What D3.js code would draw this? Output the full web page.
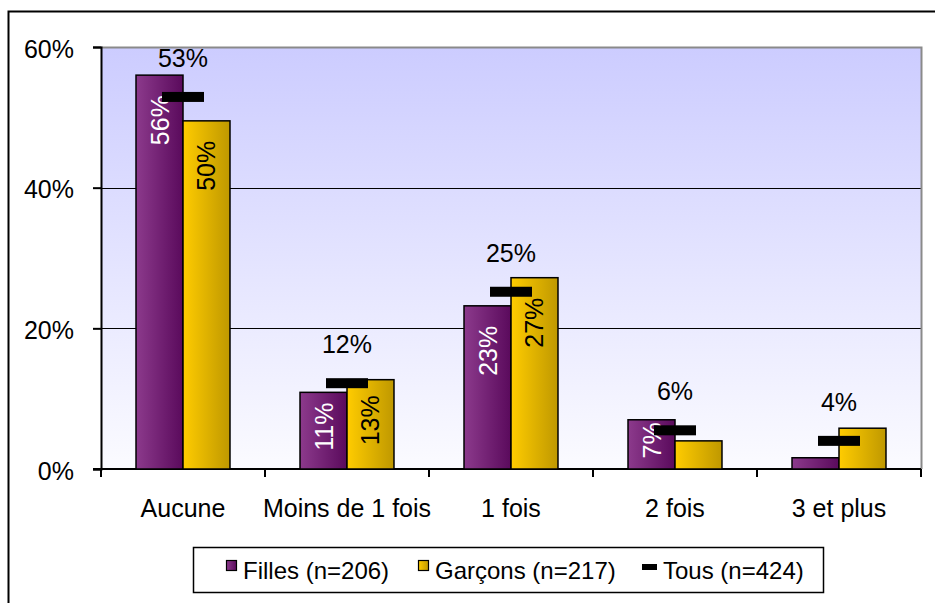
<!DOCTYPE html>
<html>
<head>
<meta charset="utf-8">
<script src="https://cdn.jsdelivr.net/npm/d3@7"></script>
<style>
  body { margin: 0; background: #fff; }
  text { font-family: "Liberation Sans", Arial, sans-serif; }
</style>
</head>
<body>
<div id="chart"></div>
<script>
// Data (percent)
const categories = ["Aucune", "Moins de 1 fois", "1 fois", "2 fois", "3 et plus"];
const fillesValues = [56.0, 10.9, 23.2, 7.0, 1.6];
const garconsValues = [49.5, 12.7, 27.2, 4.0, 5.8];
const tousValues = [52.9, 12.2, 25.2, 5.5, 4.0];
const fillesLabels = ["56%", "11%", "23%", "7%", ""];
const garconsLabels = ["50%", "13%", "27%", "", ""];
const tousLabels = ["53%", "12%", "25%", "6%", "4%"];
const yTicks = [0, 20, 40, 60];
const legendLabels = ["Filles (n=206)", "Garçons (n=217)", "Tous (n=424)"];

const width = 935, height = 603;
const plot = { left: 101, top: 47, right: 921, bottom: 469 };

const svg = d3.select("#chart").append("svg")
    .attr("width", width)
    .attr("height", height);

const defs = svg.append("defs");

// plot background gradient
const bg = defs.append("linearGradient").attr("id", "bg")
    .attr("x1", 0).attr("y1", 0).attr("x2", 0).attr("y2", 1);
bg.append("stop").attr("offset", "0%").attr("stop-color", "#ccccff");
bg.append("stop").attr("offset", "100%").attr("stop-color", "#fbfbff");

function barGradient(id, c1, c2) {
    const g = defs.append("linearGradient").attr("id", id)
        .attr("x1", 0).attr("y1", 0).attr("x2", 1).attr("y2", 0);
    g.append("stop").attr("offset", "0%").attr("stop-color", c1);
    g.append("stop").attr("offset", "100%").attr("stop-color", c2);
}
barGradient("gFilles", "#8c3a8c", "#5a0a5c");
barGradient("gGarcons", "#ffcc00", "#bf9800");

// outer frame
svg.append("rect")
    .attr("x", 8.5).attr("y", 11.5)
    .attr("width", 960).attr("height", 640)
    .attr("fill", "none").attr("stroke", "#000").attr("stroke-width", 2);

const x0 = d3.scaleBand()
    .domain(categories)
    .range([plot.left, plot.right])
    .padding(0);

const x1 = d3.scaleBand()
    .domain(["Filles", "Garçons"])
    .range([0, x0.bandwidth()])
    .paddingInner(0)
    .paddingOuter(0.745);

const y = d3.scaleLinear()
    .domain([0, 60])
    .range([plot.bottom, plot.top]);

// background
svg.append("rect")
    .attr("x", plot.left).attr("y", plot.top)
    .attr("width", plot.right - plot.left)
    .attr("height", plot.bottom - plot.top)
    .attr("fill", "url(#bg)");

// grid lines
svg.append("g")
    .selectAll("line")
    .data(yTicks.filter(d => d > 0 && d < 60))
    .enter().append("line")
    .attr("x1", plot.left).attr("x2", plot.right)
    .attr("y1", d => Math.round(y(d)) + 0.5)
    .attr("y2", d => Math.round(y(d)) + 0.5)
    .attr("stroke", "#000").attr("stroke-width", 1);

// plot border (top and right grey)
svg.append("path")
    .attr("d", `M${plot.left},${plot.top + 0.5}H${plot.right + 0.5}V${plot.bottom}`)
    .attr("fill", "none").attr("stroke", "#8a8a8a").attr("stroke-width", 2);

// y axis
const yAxis = svg.append("g")
    .attr("transform", `translate(${plot.left},0)`)
    .call(d3.axisLeft(y).tickValues(yTicks).tickFormat(d => d + "%").tickSize(8).tickPadding(19));
yAxis.select(".domain").attr("stroke-width", 2);
yAxis.selectAll(".tick line").attr("stroke-width", 2);
yAxis.selectAll(".tick text")
    .attr("font-size", 25)
    .attr("fill", "#000")
    .attr("dy", "0.4em");

// x axis
const tickPositions = categories.map(c => x0(c)).concat([plot.right]);
const xAxis = svg.append("g");
xAxis.append("line")
    .attr("x1", plot.left - 8).attr("x2", plot.right)
    .attr("y1", plot.bottom).attr("y2", plot.bottom)
    .attr("stroke", "#000").attr("stroke-width", 2);
xAxis.selectAll(".xt")
    .data(tickPositions)
    .enter().append("line")
    .attr("class", "xt")
    .attr("x1", d => d).attr("x2", d => d)
    .attr("y1", plot.bottom).attr("y2", plot.bottom + 8)
    .attr("stroke", "#000").attr("stroke-width", 2);
xAxis.selectAll(".xl")
    .data(categories)
    .enter().append("text")
    .attr("class", "xl")
    .attr("x", d => x0(d) + x0.bandwidth() / 2)
    .attr("y", 517)
    .attr("text-anchor", "middle")
    .attr("font-size", 25)
    .text(d => d);

// bars
const series = [
    { key: "Filles", values: fillesValues, labels: fillesLabels, fill: "url(#gFilles)", textColor: "#fff" },
    { key: "Garçons", values: garconsValues, labels: garconsLabels, fill: "url(#gGarcons)", textColor: "#000" }
];

series.forEach(s => {
    const rows = categories.map((c, i) => ({ c, v: s.values[i], label: s.labels[i] }));
    svg.append("g").selectAll("rect")
        .data(rows)
        .enter().append("rect")
        .attr("x", d => x0(d.c) + x1(s.key))
        .attr("y", d => y(d.v))
        .attr("width", x1.bandwidth())
        .attr("height", d => y(0) - y(d.v))
        .attr("fill", s.fill)
        .attr("stroke", "#000")
        .attr("stroke-width", 1.5);

    svg.append("g").selectAll("text")
        .data(rows.filter(d => d.label))
        .enter().append("text")
        .attr("transform", d => {
            const cx = x0(d.c) + x1(s.key) + x1.bandwidth() / 2;
            const top = y(d.v);
            const cy = Math.min(top + 45, (top + y(0)) / 2 - 4);
            return `translate(${cx},${cy}) rotate(-90)`;
        })
        .attr("text-anchor", "middle")
        .attr("dy", "0.36em")
        .attr("font-size", 25)
        .attr("fill", s.textColor)
        .text(d => d.label);
});

// Tous markers
const tousRows = categories.map((c, i) => ({ c, v: tousValues[i], label: tousLabels[i] }));
svg.append("g").selectAll("rect")
    .data(tousRows)
    .enter().append("rect")
    .attr("x", d => x0(d.c) + x0.bandwidth() / 2 - 21)
    .attr("y", d => y(d.v) - 5)
    .attr("width", 42)
    .attr("height", 10)
    .attr("fill", "#000");

svg.append("g").selectAll("text")
    .data(tousRows)
    .enter().append("text")
    .attr("x", d => x0(d.c) + x0.bandwidth() / 2)
    .attr("y", d => y(d.v) - 30)
    .attr("text-anchor", "middle")
    .attr("font-size", 25)
    .text(d => d.label);

// legend
const legend = svg.append("g");
legend.append("rect")
    .attr("x", 193.5).attr("y", 547.5)
    .attr("width", 630).attr("height", 45)
    .attr("fill", "#fff")
    .attr("stroke", "#000").attr("stroke-width", 1.5);

const legendX = [226, 418, 642];
legendLabels.forEach((lab, i) => {
    if (i < 2) {
        legend.append("rect")
            .attr("x", legendX[i] + 0.5).attr("y", 560.5)
            .attr("width", 10).attr("height", 10)
            .attr("fill", i === 0 ? "url(#gFilles)" : "url(#gGarcons)")
            .attr("stroke", "#000").attr("stroke-width", 1.2);
    } else {
        legend.append("rect")
            .attr("x", legendX[i]).attr("y", 564)
            .attr("width", 15).attr("height", 6)
            .attr("fill", "#000");
    }
    legend.append("text")
        .attr("x", legendX[i] + (i < 2 ? 17 : 21))
        .attr("y", 579)
        .attr("font-size", 24)
        .text(lab);
});
</script>
</body>
</html>
